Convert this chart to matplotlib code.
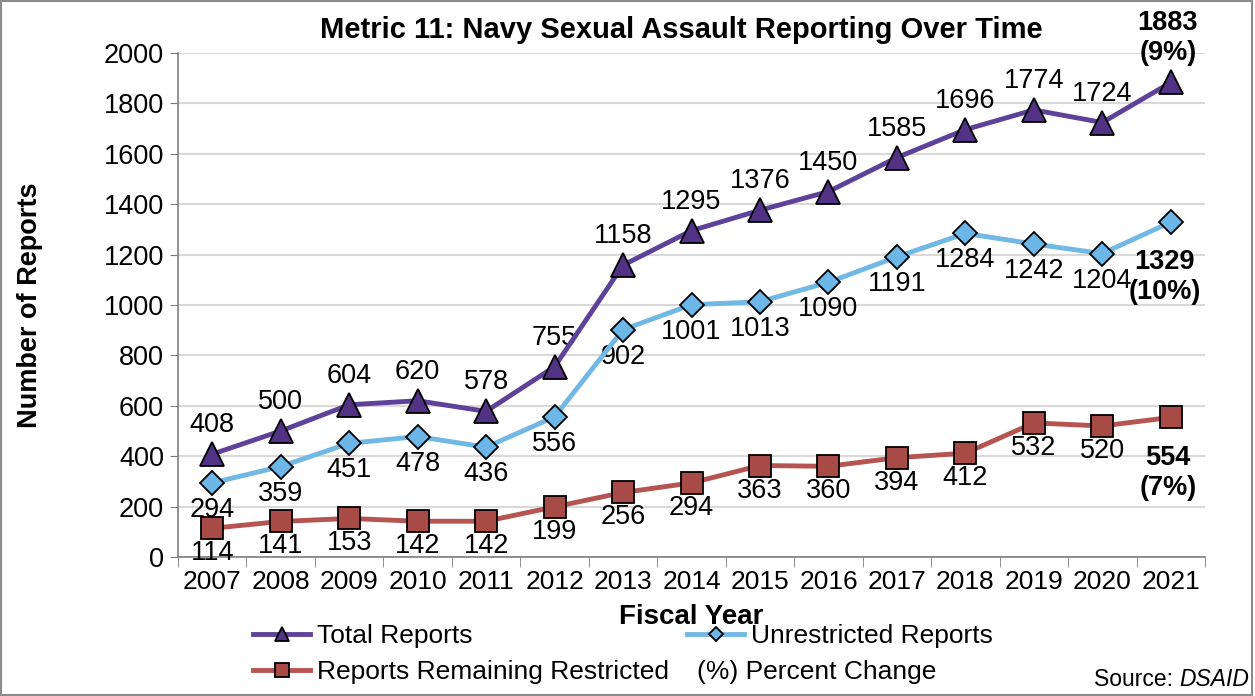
import matplotlib.pyplot as plt
import numpy as np

# data
years = ["2007", "2008", "2009", "2010", "2011", "2012", "2013", "2014",
         "2015", "2016", "2017", "2018", "2019", "2020", "2021"]
total = [408, 500, 604, 620, 578, 755, 1158, 1295, 1376, 1450, 1585, 1696, 1774, 1724, 1883]
unrestricted = [294, 359, 451, 478, 436, 556, 902, 1001, 1013, 1090, 1191, 1284, 1242, 1204, 1329]
restricted = [114, 141, 153, 142, 142, 199, 256, 294, 363, 360, 394, 412, 532, 520, 554]
pct_total, pct_unres, pct_res = "9%", "10%", "7%"

plt.rcParams['font.family'] = ['Liberation Sans', 'DejaVu Sans']

fig = plt.figure(figsize=(12.55, 6.96), dpi=100)
ax = fig.add_axes([0.1418, 0.1997, 0.8184, 0.7242])

x = np.arange(len(years))
c_tot, c_tot_m = '#5E4199', '#523284'
c_unr, c_unr_m = '#72B8E4', '#6CB6E8'
c_res, c_res_m = '#B55450', '#A84A45'

ax.plot(x, total, color=c_tot, lw=3.5, marker='^', ms=17, mfc=c_tot_m, mec='black', mew=1.3,
        label='Total Reports', zorder=4)
ax.plot(x, unrestricted, color=c_unr, lw=3.5, marker='D', ms=12, mfc=c_unr_m, mec='black', mew=1.3,
        label='Unrestricted Reports', zorder=4)
ax.plot(x, restricted, color=c_res, lw=3.5, marker='s', ms=16, mfc=c_res_m, mec='black', mew=1.3,
        label='Reports Remaining Restricted', zorder=4)

fs = 19.5
last = len(years) - 1
for i in range(last):
    ax.annotate(str(total[i]), (x[i], total[i]), textcoords='offset pixels', xytext=(0, 29),
                ha='center', va='center', fontsize=fs)
    ax.annotate(str(unrestricted[i]), (x[i], unrestricted[i]), textcoords='offset pixels', xytext=(0, -27),
                ha='center', va='center', fontsize=fs)
    ax.annotate(str(restricted[i]), (x[i], restricted[i]), textcoords='offset pixels', xytext=(0, -25),
                ha='center', va='center', fontsize=fs)

ax.annotate(f"{total[last]}\n({pct_total})", (x[last], total[last]), textcoords='offset pixels',
            xytext=(-3, 44), ha='center', va='center', fontsize=fs, fontweight='bold', linespacing=1.2)
ax.annotate(f"{unrestricted[last]}\n({pct_unres})", (x[last], unrestricted[last]), textcoords='offset pixels',
            xytext=(-6, -55), ha='center', va='center', fontsize=fs, fontweight='bold', linespacing=1.2)
ax.annotate(f"{restricted[last]}\n({pct_res})", (x[last], restricted[last]), textcoords='offset pixels',
            xytext=(-3, -56), ha='center', va='center', fontsize=fs, fontweight='bold', linespacing=1.2)

ax.set_xlim(-0.5, len(years) - 0.5)
ax.set_ylim(0, 2000)
ax.set_yticks(np.arange(0, 2001, 200))
ax.set_xticks(x)
ax.set_xticklabels(years)
ax.set_xticks(np.arange(-0.5, len(years), 1), minor=True)
ax.tick_params(axis='x', which='major', length=0, labelsize=19, pad=9)
ax.tick_params(axis='x', which='minor', length=7, color='#7F7F7F')
ax.tick_params(axis='y', length=6, color='#7F7F7F', labelsize=19.5, pad=4)
ax.grid(axis='y', color='#D9D9D9', lw=1.5, zorder=0)
ax.set_axisbelow(True)
for s in ['top', 'right']:
    ax.spines[s].set_visible(False)
for s in ['left', 'bottom']:
    ax.spines[s].set_color('#7F7F7F')
    ax.spines[s].set_linewidth(1.2)

ax.set_title('Metric 11: Navy Sexual Assault Reporting Over Time', fontsize=21,
             fontweight='bold', pad=11, x=0.49)
ax.set_xlabel('Fiscal Year', fontsize=20, fontweight='bold')
ax.xaxis.set_label_coords(0.5, -0.119)
ax.xaxis.label.set_va('center')
ax.set_ylabel('Number of Reports', fontsize=19.5, fontweight='bold')
ax.yaxis.set_label_coords(-0.144, 0.5)
ax.yaxis.label.set_va('center')

h, l = ax.get_legend_handles_labels()
order = [0, 2, 1]
fig.legend([h[i] for i in order], [l[i] for i in order], ncol=2, loc='center left',
           bbox_to_anchor=(0.1914, 0.06), frameon=False, fontsize=19, handlelength=2.15,
           columnspacing=0.7, handletextpad=0.25, labelspacing=0.45, markerscale=0.6,
           borderpad=0)
fig.text(0.5555, 0.034, '(%) Percent Change', fontsize=19, va='center', ha='left')

# "Source: DSAID" with the italic part, right-aligned at the figure edge
src_it = fig.text(0.9955, 0.023, 'DSAID', fontsize=16.5, ha='right', va='center', style='italic')
fig.canvas.draw()
bb = src_it.get_window_extent()
fig.text(bb.x0 / fig.bbox.width, 0.023, 'Source: ', fontsize=16.5, ha='right', va='center')

fig.patches.append(plt.Rectangle((0.001, 0.001), 0.997, 0.997, transform=fig.transFigure,
                                 fill=False, edgecolor='#8C8C8C', lw=1.5))

fig.savefig('out.png', dpi=100)
